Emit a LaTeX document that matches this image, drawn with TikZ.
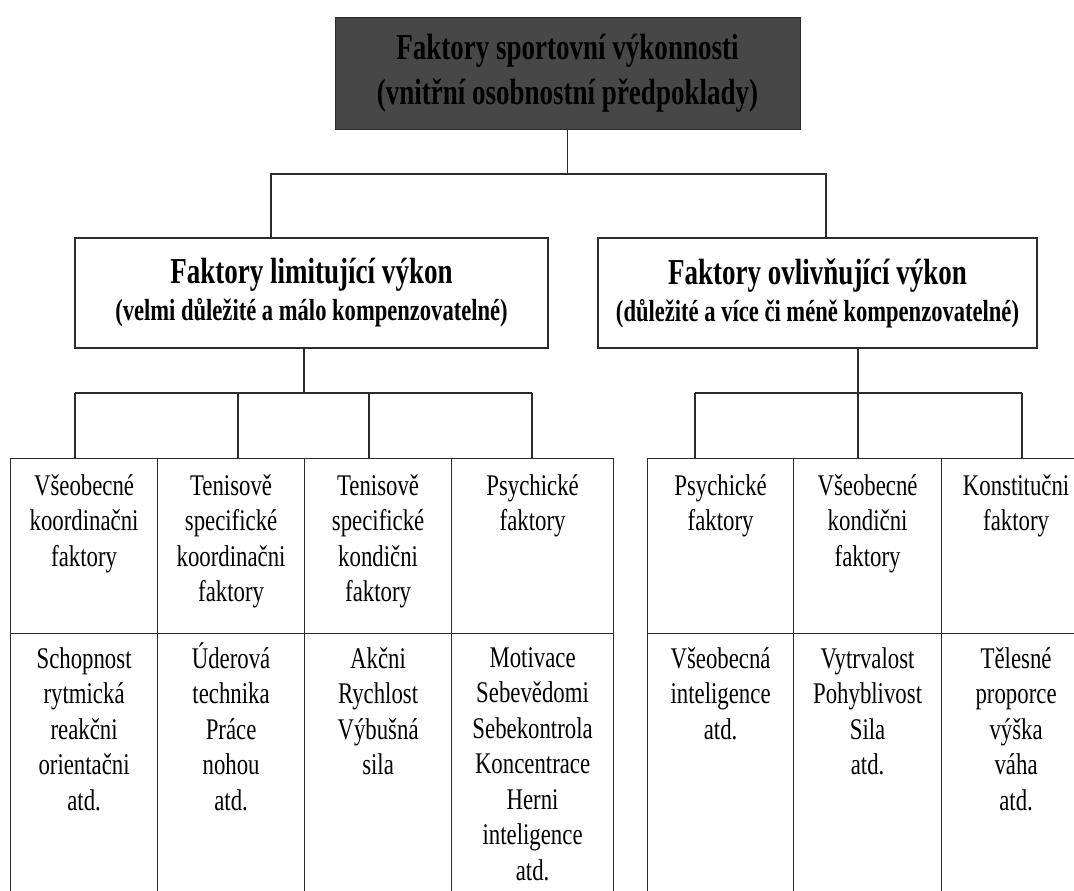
\documentclass[tikz,border=0pt]{standalone}
\usepackage{fontspec}
\setmainfont{Liberation Serif}
\newfontfamily\hdfont{Liberation Serif}[FakeStretch=0.74]
\newfontfamily\cellfont{Liberation Serif}[FakeStretch=0.76]
\usepackage{tikz}
\usetikzlibrary{positioning}
\definecolor{linec}{HTML}{2B2B2B}
\definecolor{rootbg}{HTML}{474747}
\tikzset{
  ln/.style={draw=linec,line width=1.2pt},
  rootbox/.style={draw=linec,line width=1pt,fill=rootbg,inner sep=0pt,align=center,
    minimum width=465pt,minimum height=111pt,font=\hdfont\bfseries\fontsize{36.5}{45}\selectfont},
  midbox/.style={draw=linec,line width=1.2pt,fill=white,inner sep=0pt,align=center,
    minimum height=110pt,font=\hdfont\bfseries\fontsize{36.5}{37}\selectfont},
  cell/.style={draw=linec,line width=1.2pt,inner sep=0pt,anchor=north west},
  celltxt/.style={inner sep=0pt,align=center,font=\cellfont\fontsize{30}{35.5}\selectfont,
    execute at begin node=\strut}
}

\begin{document}
\begin{tikzpicture}[x=1pt,y=-1pt]
\useasboundingbox (0,0) rectangle (1074,891);
\clip (0,0) rectangle (1074,891);
% top box
\node[rootbox] (root) at (567.5,73.5) {Faktory sportovní výkonnosti\\(vnitřní osobnostní předpoklady)};
% second level
\node[midbox,minimum width=473pt] (limit) at (311.5,293) {Faktory limitující výkon\\{\fontsize{30.5}{37}\selectfont(velmi důležité a málo kompenzovatelné)}};
\node[midbox,minimum width=439pt] (vliv) at (817.5,293) {Faktory ovlivňující výkon\\{\fontsize{30.5}{37}\selectfont(důležité a více či méně kompenzovatelné)}};
\coordinate (busA) at (271,174);
\coordinate (busB) at (826,174);
\draw[ln] (root.south) -- (root.south |- busA);
\draw[ln] (limit.north -| busA) -- (busA) -- (busB) -- (vliv.north -| busB);

% left table
\node[cell,minimum width=147pt,minimum height=175pt] (l1) at (10,458) {};
\node[cell,minimum width=147pt,minimum height=175pt] (l2) at (157,458) {};
\node[cell,minimum width=147pt,minimum height=175pt] (l3) at (304,458) {};
\node[cell,minimum width=162pt,minimum height=175pt] (l4) at (451,458) {};
\node[cell,minimum width=147pt,minimum height=272pt] (lb1) at (10,633) {};
\node[cell,minimum width=147pt,minimum height=272pt] (lb2) at (157,633) {};
\node[cell,minimum width=147pt,minimum height=272pt] (lb3) at (304,633) {};
\node[cell,minimum width=162pt,minimum height=272pt] (lb4) at (451,633) {};
\node[celltxt,below=16pt of l1.north] (tl1) {Všeobecné\\koordinačni\\faktory};
\node[celltxt,below=16pt of l2.north] (tl2) {Tenisově\\specifické\\koordinačni\\faktory};
\node[celltxt,below=16pt of l3.north] (tl3) {Tenisově\\specifické\\kondični\\faktory};
\node[celltxt,below=16pt of l4.north] (tl4) {Psychické\\faktory};
\node[celltxt,below=14pt of lb1.north] (tb1) {Schopnost\\rytmická\\reakčni\\orientačni\\atd.};
\node[celltxt,below=14pt of lb2.north] (tb2) {\smash{Ú}derová\\technika\\Práce\\nohou\\atd.};
\node[celltxt,below=14pt of lb3.north] (tb3) {Akčni\\Rychlost\\Výbušná\\sila};
\node[celltxt,below=14pt of lb4.north] (tb4) {Motivace\\Sebevědomi\\Sebekontrola\\Koncentrace\\Herni\\inteligence\\atd.};

% right table
\node[cell,minimum width=146pt,minimum height=175pt] (r1) at (647,458) {};
\node[cell,minimum width=148pt,minimum height=175pt] (r2) at (793,458) {};
\node[cell,minimum width=149pt,minimum height=175pt] (r3) at (941,458) {};
\node[cell,minimum width=146pt,minimum height=272pt] (rb1) at (647,633) {};
\node[cell,minimum width=148pt,minimum height=272pt] (rb2) at (793,633) {};
\node[cell,minimum width=149pt,minimum height=272pt] (rb3) at (941,633) {};
\node[celltxt,below=16pt of r1.north] (tr1) {Psychické\\faktory};
\node[celltxt,below=16pt of r2.north] (tr2) {Všeobecné\\kondični\\faktory};
\node[celltxt,below=16pt of r3.north] (tr3) {Konstitučni\\faktory};
\node[celltxt,below=14pt of rb1.north] (trb1) {Všeobecná\\inteligence\\atd.};
\node[celltxt,below=14pt of rb2.north] (trb2) {Vytrvalost\\Pohyblivost\\Sila\\atd.};
\node[celltxt,below=14pt of rb3.north] (trb3) {Tělesné\\proporce\\výška\\váha\\atd.};

% connectors to the tables
\coordinate (bl1) at (75,393);
\coordinate (bl2) at (238,393);
\coordinate (bl3) at (369,393);
\coordinate (bl4) at (532,393);
\coordinate (ldrop) at (304,393);
\draw[ln] (ldrop |- limit.south) -- (ldrop);
\draw[ln] (bl1) -- (bl4);
\foreach \i in {1,...,4} \draw[ln] (bl\i) -- (bl\i |- l\i.north);
\coordinate (br1) at (695,393);
\coordinate (br2) at (858,393);
\coordinate (br3) at (1022,393);
\draw[ln] (br2 |- vliv.south) -- (br2);
\draw[ln] (br1) -- (br3);
\foreach \i in {1,2,3} \draw[ln] (br\i) -- (br\i |- r\i.north);
\draw[ln,line width=2.6pt] ([yshift=23pt]br2) -- ([yshift=-22pt]br2);
\end{tikzpicture}
\end{document}
